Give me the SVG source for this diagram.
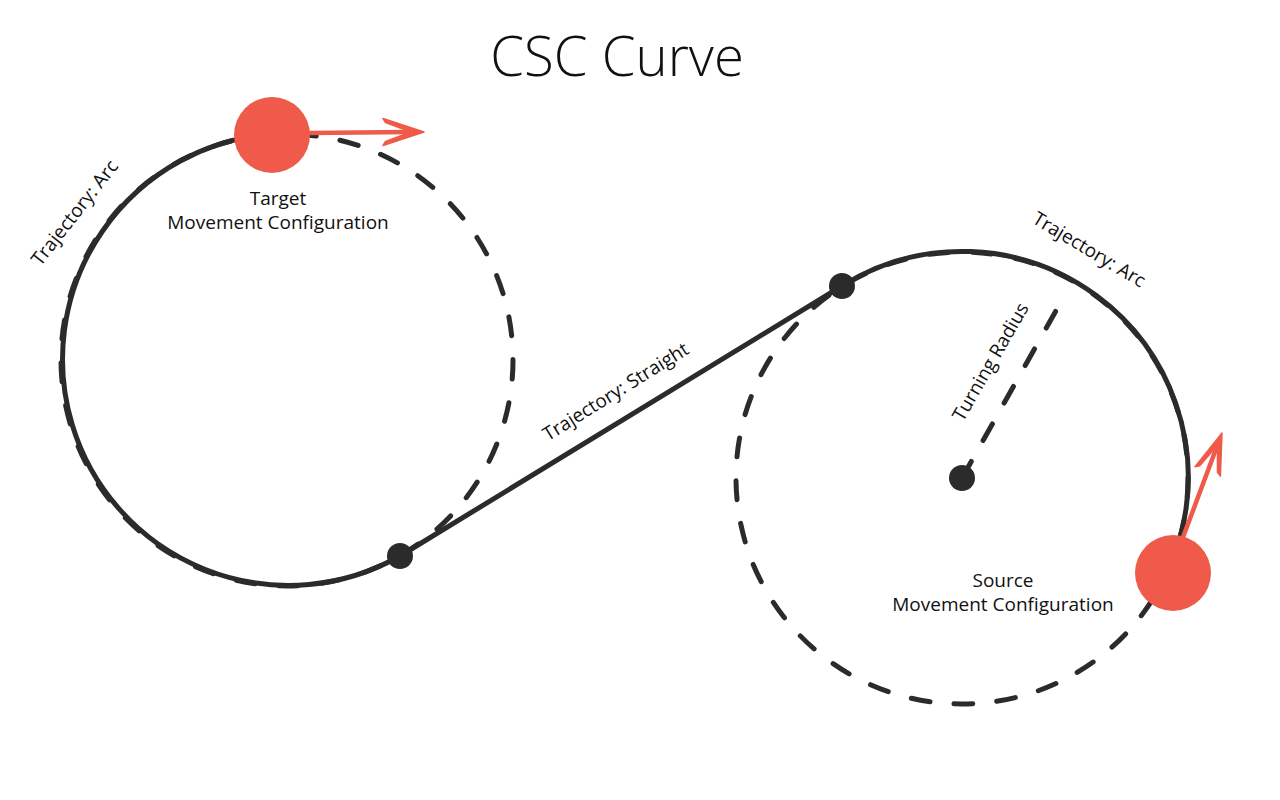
<svg xmlns="http://www.w3.org/2000/svg" width="1280" height="800" viewBox="0 0 1280 800">
<style>
.solid{fill:none;stroke:#2b2b2b;stroke-width:5;stroke-linecap:round}
.dash{fill:none;stroke:#2b2b2b;stroke-width:5;stroke-linecap:round;stroke-dasharray:19 24}
.red{fill:none;stroke:#ef5a4b;stroke-width:4.5;stroke-linecap:round;stroke-linejoin:round}
.head{fill:#ef5a4b;stroke:#ef5a4b;stroke-width:1.5;stroke-linejoin:round}
.dot{fill:#2b2b2b}
.rdot{fill:#ef5a4b}
text{font-family:"Open Sans","Liberation Sans",sans-serif;fill:#111;font-size:19px}
.title{font-size:54.5px;font-weight:300}
</style>
<defs>
<path id="ahead" class="head" d="M0 0 L-41 -13.5 L-38.5 -9.5 L-13 0 L-38.5 9.5 L-41 13.5 Z"/>
</defs>
<rect width="1280" height="800" fill="#fff"/>
<text class="title" x="617" y="76" text-anchor="middle">CSC Curve</text>
<g id="connectors">
<circle class="dash" cx="287" cy="360" r="226"/>
<circle class="dash" cx="962" cy="478" r="226"/>
<path class="solid" d="M272 134 A226 226 0 1 0 400 556"/>
<path class="solid" d="M400 556 L842 286"/>
<path class="solid" d="M842 286 A226 226 0 0 1 1180.3 536.5"/>
<line class="dash" x1="962" y1="478" x2="1062" y2="300"/>
<path class="red" d="M308 133 L410 132"/>
<use href="#ahead" transform="translate(424 132)"/>
<path class="red" d="M1182 540 L1216 449"/>
<use href="#ahead" transform="translate(1222 433) rotate(-69.6)"/>
</g>
<g id="target">
<circle class="rdot" cx="272" cy="135" r="38"/>
<text x="278" y="205" text-anchor="middle">Target</text>
<text x="278" y="229" text-anchor="middle">Movement Configuration</text>
</g>
<g id="source">
<circle class="rdot" cx="1173" cy="573" r="38"/>
<text x="1003" y="587" text-anchor="middle">Source</text>
<text x="1003" y="611" text-anchor="middle">Movement Configuration</text>
</g>
<g id="tangent-left"><circle class="dot" cx="400" cy="556" r="13"/></g>
<g id="tangent-right"><circle class="dot" cx="842" cy="286" r="13"/></g>
<g id="center"><circle class="dot" cx="962" cy="478" r="13"/></g>
<g id="labels">
<text transform="translate(75 213) rotate(-52)" text-anchor="middle" dy="6">Trajectory: Arc</text>
<text transform="translate(1089 250) rotate(31)" text-anchor="middle" dy="6">Trajectory: Arc</text>
<text transform="translate(616 392) rotate(-32)" text-anchor="middle" dy="6">Trajectory: Straight</text>
<text transform="translate(991 362) rotate(-60)" text-anchor="middle" dy="6">Turning Radius</text>
</g>
</svg>
